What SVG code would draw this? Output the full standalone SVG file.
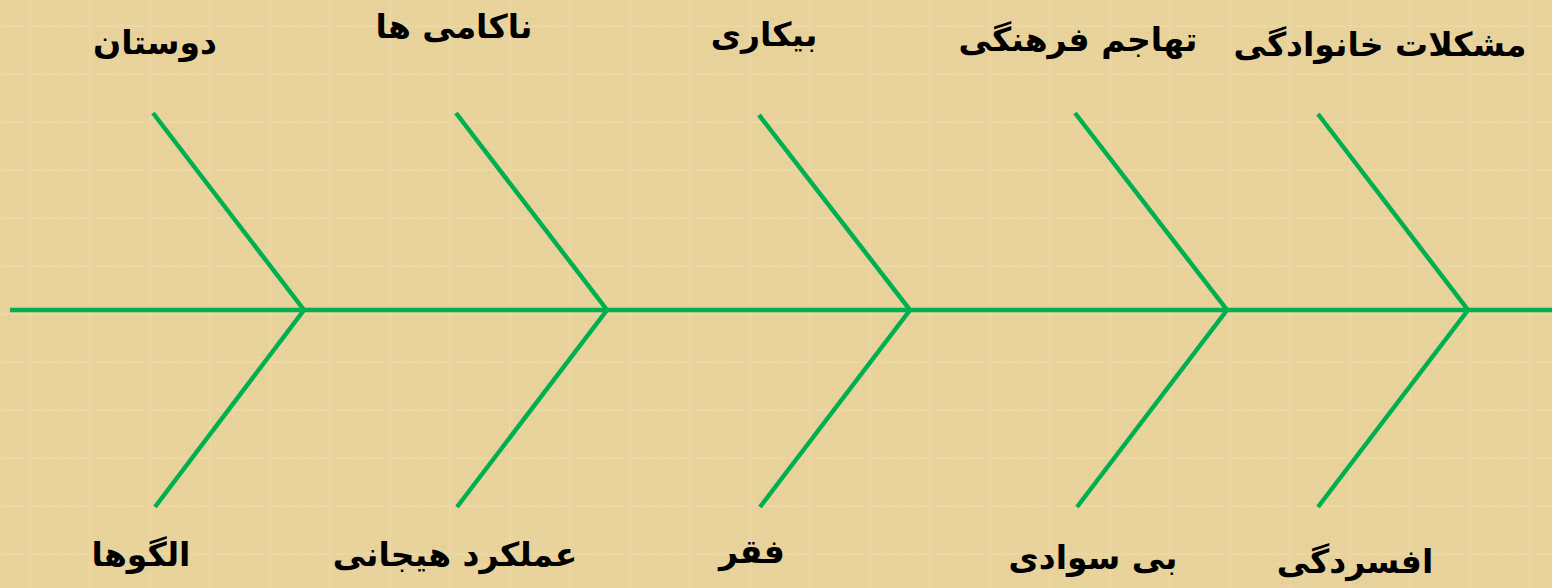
<svg xmlns="http://www.w3.org/2000/svg" width="1552" height="588" viewBox="0 0 1552 588">
  <defs>
    <style>
      .bone { stroke: #00B050; stroke-width: 4.5; fill: none; stroke-linecap: butt; }
      .lbl { font-family: "DejaVu Sans", "Noto Sans", sans-serif; font-weight: bold; font-size: 33px; fill: #000; text-anchor: middle; }
    </style>
    <pattern id="tex" width="60" height="48" patternUnits="userSpaceOnUse">
      <rect width="60" height="48" fill="#E9D39C"/>
      <path d="M0 7H60M0 19H60M0 33H60M0 41H60" stroke="#D9BF84" stroke-width="1" opacity="0.25"/>
      <path d="M9 0V48M23 0V48M38 0V48M51 0V48" stroke="#D6BC80" stroke-width="1" opacity="0.22"/>
      <path d="M0 26H60M30 0V48" stroke="#F2E0B0" stroke-width="2" opacity="0.3"/>
    </pattern>
  </defs>
  <rect width="1552" height="588" fill="url(#tex)"/>
  <g id="connectors">
    <line class="bone" x1="10" y1="310" x2="1552" y2="310"/>
    <polyline class="bone" points="153,113 304,310 155,507"/>
    <polyline class="bone" points="456,113 607,310 457,507"/>
    <polyline class="bone" points="759,115 910,310 760,507"/>
    <polyline class="bone" points="1075,113 1227,310 1077,507"/>
    <polyline class="bone" points="1318,114 1468,310 1318,507"/>
  </g>
  <g id="n1"><text class="lbl" x="155" y="54">دوستان</text></g>
  <g id="n2"><text class="lbl" x="454" y="38">ناکامی ها</text></g>
  <g id="n3"><text class="lbl" x="764" y="46">بیکاری</text></g>
  <g id="n4"><text class="lbl" x="1078" y="51">تهاجم فرهنگی</text></g>
  <g id="n5"><text class="lbl" x="1380" y="56">مشکلات خانوادگی</text></g>
  <g id="n6"><text class="lbl" x="141" y="566">الگوها</text></g>
  <g id="n7"><text class="lbl" x="455" y="566">عملکرد هیجانی</text></g>
  <g id="n8"><text class="lbl" x="752" y="563">فقر</text></g>
  <g id="n9"><text class="lbl" x="1093" y="569">بی سوادی</text></g>
  <g id="n10"><text class="lbl" x="1355" y="573">افسردگی</text></g>
</svg>
